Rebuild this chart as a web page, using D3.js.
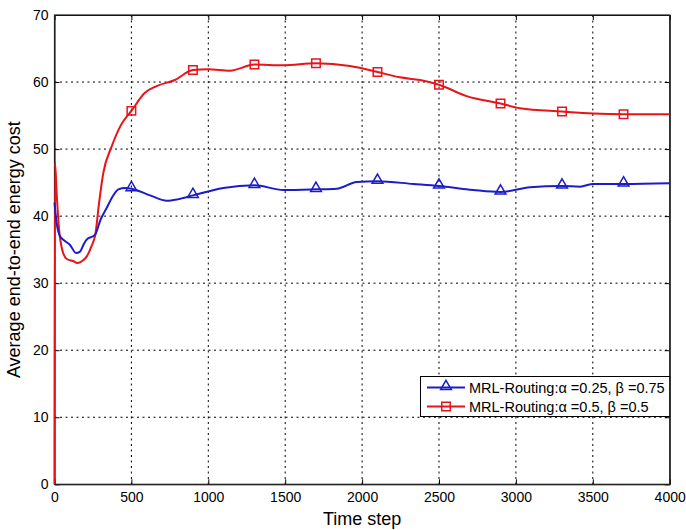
<!DOCTYPE html>
<html>
<head>
<meta charset="utf-8">
<script src="https://cdn.jsdelivr.net/npm/d3@7"></script>
<style>
  html, body { margin: 0; padding: 0; background: #fff; }
  svg { display: block; font-family: "Liberation Sans", Arial, sans-serif; }
</style>
</head>
<body>
<svg id="chart" width="686" height="530"></svg>
<script>
// Time steps and average end-to-end energy cost for the two parameter settings
const blueSteps = [0, 15, 36, 68, 101, 140, 166, 190, 209, 263, 300, 339, 380, 415, 460, 500, 621, 730, 800, 900, 1098, 1300, 1488, 1700, 1835, 1965, 2100, 2333, 2500, 2723, 2900, 3092, 3300, 3417, 3503, 3700, 4000];
const blueCost  = [42.0, 38.8, 37.0, 36.3, 35.7, 34.5, 34.7, 35.8, 36.5, 37.2, 39.5, 41.2, 43.0, 44.0, 44.2, 44.1, 43.1, 42.3, 42.5, 43.1, 44.2, 44.6, 43.9, 44.0, 44.1, 45.1, 45.2, 44.8, 44.5, 43.9, 43.6, 44.3, 44.5, 44.4, 44.8, 44.8, 44.9];

const redSteps = [0, 3, 15, 30, 50, 80, 120, 150, 180, 210, 240, 265, 290, 317, 372, 430, 500, 588, 664, 783, 900, 1000, 1141, 1300, 1488, 1700, 1921, 2100, 2246, 2377, 2500, 2680, 2900, 3027, 3300, 3503, 3700, 4000];
const redCost  = [0, 48.0, 43.0, 38.0, 35.0, 33.6, 33.3, 33.0, 33.3, 34.0, 35.5, 37.2, 42.0, 46.4, 50.4, 53.5, 55.7, 58.4, 59.4, 60.3, 61.8, 61.9, 61.7, 62.6, 62.5, 62.8, 62.4, 61.5, 60.7, 60.3, 59.6, 57.9, 56.8, 56.1, 55.6, 55.3, 55.2, 55.2];

// Steps at which symbols are placed on both curves
const markerSteps = [500, 900, 1300, 1700, 2100, 2500, 2900, 3300, 3700];

const xTicks = [0, 500, 1000, 1500, 2000, 2500, 3000, 3500, 4000];
const yTicks = [0, 10, 20, 30, 40, 50, 60, 70];

const legendLabels = ["MRL-Routing:\u03b1 =0.25, \u03b2 =0.75", "MRL-Routing:\u03b1 =0.5, \u03b2 =0.5"];

const svg = d3.select("#chart");
const plotL = 54.5, plotR = 669.7, plotT = 15, plotB = 484.3;

const x = d3.scaleLinear().domain([0, 4000]).range([plotL, plotR]);
const y = d3.scaleLinear().domain([0, 70]).range([plotB, plotT]);

// Dotted grid
const grid = svg.append("g").attr("stroke", "#000").attr("stroke-width", 1)
  .attr("stroke-dasharray", "2,3.5");
xTicks.slice(1, -1).forEach(t => {
  grid.append("line").attr("x1", x(t)).attr("x2", x(t)).attr("y1", plotT).attr("y2", plotB);
});
yTicks.slice(1, -1).forEach(t => {
  grid.append("line").attr("x1", plotL).attr("x2", plotR).attr("y1", y(t)).attr("y2", y(t));
});

// Axes with inward ticks
const axisFont = g => g.selectAll("text").attr("font-size", 14).attr("fill", "#000")
  .attr("font-family", "Liberation Sans, Arial, sans-serif");
const xAxis = svg.append("g").attr("transform", `translate(0,${plotB})`)
  .call(d3.axisBottom(x).tickValues(xTicks).tickFormat(d3.format("d")).tickSizeInner(-5).tickSizeOuter(0).tickPadding(8));
xAxis.call(axisFont);
const yAxis = svg.append("g").attr("transform", `translate(${plotL},0)`)
  .call(d3.axisLeft(y).tickValues(yTicks).tickSizeInner(-5).tickSizeOuter(0).tickPadding(6));
yAxis.call(axisFont);
svg.append("g").attr("transform", `translate(0,${plotT})`)
  .call(d3.axisTop(x).tickValues(xTicks).tickFormat("").tickSizeInner(-5).tickSizeOuter(0));
svg.append("g").attr("transform", `translate(${plotR},0)`)
  .call(d3.axisRight(y).tickValues(yTicks).tickFormat("").tickSizeInner(-5).tickSizeOuter(0));
svg.selectAll(".domain, .tick line").attr("stroke", "#000");

svg.append("rect").attr("x", plotL).attr("y", plotT).attr("width", plotR - plotL).attr("height", plotB - plotT)
  .attr("fill", "none").attr("stroke", "#222").attr("stroke-width", 1.2);

// Curves
const line = d3.line().x(d => x(d[0])).y(d => y(d[1])).curve(d3.curveMonotoneX);
const blueData = blueSteps.map((t, i) => [t, blueCost[i]]);
const redData = redSteps.map((t, i) => [t, redCost[i]]);
const blueColor = "#1c1cc8", redColor = "#e8141a";

svg.append("path").datum(redData).attr("d", line).attr("fill", "none")
  .attr("stroke", redColor).attr("stroke-width", 2);
svg.append("path").datum(blueData).attr("d", line).attr("fill", "none")
  .attr("stroke", blueColor).attr("stroke-width", 2);

const tri = d3.symbol().type(d3.symbolTriangle).size(50);
const sq = d3.symbol().type(d3.symbolSquare).size(72);

svg.append("g").selectAll("path").data(redData.filter(d => markerSteps.includes(d[0])))
  .join("path").attr("d", sq).attr("transform", d => `translate(${x(d[0])},${y(d[1])})`)
  .attr("fill", "none").attr("stroke", redColor).attr("stroke-width", 1.5);
svg.append("g").selectAll("path").data(blueData.filter(d => markerSteps.includes(d[0])))
  .join("path").attr("d", tri).attr("transform", d => `translate(${x(d[0])},${y(d[1]) - 1})`)
  .attr("fill", "none").attr("stroke", blueColor).attr("stroke-width", 1.5);

// Axis titles
svg.append("text").attr("x", (plotL + plotR) / 2).attr("y", 525).attr("text-anchor", "middle")
  .attr("font-size", 18).text("Time step");
svg.append("text").attr("transform", `translate(20,${(plotT + plotB) / 2}) rotate(-90)`)
  .attr("text-anchor", "middle").attr("font-size", 18).text("Average end-to-end energy cost");

// Legend
const lg = svg.append("g");
lg.append("rect").attr("x", 420.5).attr("y", 376.5).attr("width", plotR - 420.5).attr("height", 40)
  .attr("fill", "#fff").attr("stroke", "#000").attr("stroke-width", 1);
const colors = [blueColor, redColor];
const syms = [tri, sq];
legendLabels.forEach((lab, i) => {
  const yy = 387.5 + i * 19;
  lg.append("line").attr("x1", 427).attr("x2", 465).attr("y1", yy).attr("y2", yy)
    .attr("stroke", colors[i]).attr("stroke-width", 2);
  lg.append("path").attr("d", syms[i]).attr("transform", `translate(446,${yy - (i === 0 ? 1 : 0)})`)
    .attr("fill", "none").attr("stroke", colors[i]).attr("stroke-width", 1.5);
  lg.append("text").attr("x", 469).attr("y", yy + 5).attr("font-size", 14.5).text(lab);
});
</script>
</body>
</html>
